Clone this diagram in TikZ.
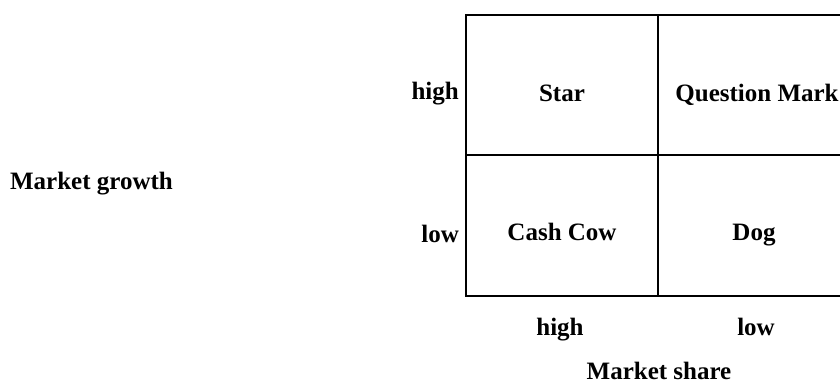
\documentclass[tikz,border=0pt]{standalone}
\usepackage{fontspec}
\setmainfont{Liberation Serif}
\begin{document}
\begin{tikzpicture}[x=1pt,y=-1pt,
  lbl/.style={font=\fontsize{25}{27}\selectfont\bfseries, inner sep=0pt, anchor=base},
  gridline/.style={line width=2pt}]
\useasboundingbox (0,0) rectangle (840,384);
\clip (0,0) rectangle (840,384);
\coordinate (tl) at (466,15);
\coordinate (tm) at (658,15);
\coordinate (tr) at (852,15);
\coordinate (ml) at (466,155);
\coordinate (mr) at (852,155);
\coordinate (bl) at (466,296);
\coordinate (bm) at (658,296);
\coordinate (br) at (852,296);
\draw[gridline] (tr) -- (tl) -- (bl) -- (br) -- (tr);
\draw[gridline] (tm) -- (bm);
\draw[gridline] (ml) -- (mr);
\node[lbl] (star) at (562,101) {Star};
\node[lbl] (qm) at (757,101) {Question Mark};
\node[lbl] (cc) at (562,240) {Cash Cow};
\node[lbl] (dog) at (754,240) {Dog};
\node[lbl, anchor=base east] (gh) at (459,99) {high};
\node[lbl, anchor=base east] (gl) at (459,242) {low};
\node[lbl, anchor=base east] (growth) at (173,189) {Market growth};
\node[lbl] (sh) at (560,335) {high};
\node[lbl] (sl) at (756,335) {low};
\node[lbl] (share) at (659,379) {Market share};
\end{tikzpicture}
\end{document}
